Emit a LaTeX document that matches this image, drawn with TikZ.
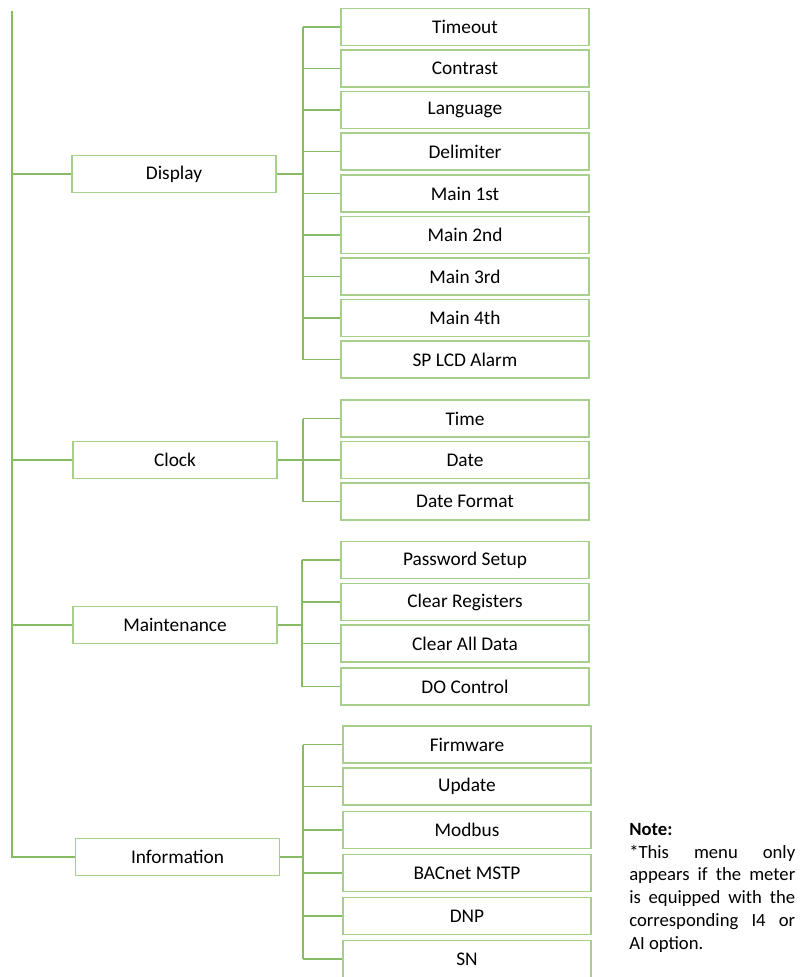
\documentclass[tikz,border=0pt]{standalone}
\usepackage{fontspec}
\setmainfont{Carlito}
\begin{document}
\begin{tikzpicture}[x=0.75pt,y=-0.75pt,
  linkline/.style={draw={rgb,255:red,135;green,188;blue,100}, line width=1pt},
  boxone/.style={draw={rgb,255:red,168;green,208;blue,141}, line width=1.1pt, fill=white,
    minimum width=153pt, minimum height=27.75pt, inner sep=0pt, font=\fontsize{14.5}{17}\selectfont},
  boxtwo/.style={draw={rgb,255:red,168;green,208;blue,141}, line width=1.1pt, fill=white,
    minimum width=186pt, minimum height=27.75pt, inner sep=0pt, font=\fontsize{14.5}{17}\selectfont}]
\useasboundingbox (0,0) rectangle (800,977);

% level 1
\node[boxone] (disp) at (174,174) {Display};
\node[boxone] (clock) at (175,460) {Clock};
\node[boxone] (maint) at (175,625) {Maintenance};
\node[boxone] (info) at (177.5,857) {Information};

% level 2: display
\node[boxtwo] (timeout) at (465,27) {Timeout};
\node[boxtwo] (contrast) at (465,68.5) {Contrast};
\node[boxtwo] (language) at (465,110) {Language};
\node[boxtwo] (delim) at (465,151.5) {Delimiter};
\node[boxtwo] (mfirst) at (465,193.5) {Main 1st};
\node[boxtwo] (msecond) at (465,235) {Main 2nd};
\node[boxtwo] (mthird) at (465,276.5) {Main 3rd};
\node[boxtwo] (mfourth) at (465,318) {Main 4th};
\node[boxtwo] (splcd) at (465,359.5) {SP LCD Alarm};
% clock
\node[boxtwo] (time) at (465,418.5) {Time};
\node[boxtwo] (date) at (465,460) {Date};
\node[boxtwo] (datefmt) at (465,501.5) {Date Format};
% maintenance
\node[boxtwo] (pwd) at (465,560) {Password Setup};
\node[boxtwo] (clrreg) at (465,602) {Clear Registers};
\node[boxtwo] (clrall) at (465,643.5) {Clear All Data};
\node[boxtwo] (docontrol) at (465,686.5) {DO Control};
% information
\node[boxtwo] (firmware) at (467,744.5) {Firmware};
\node[boxtwo] (update) at (467,786.5) {Update};
\node[boxtwo] (modbus) at (467,830) {Modbus};
\node[boxtwo] (bacnet) at (467,873) {BACnet MSTP};
\node[boxtwo] (dnp) at (467,916) {DNP};
\node[boxtwo] (sn) at (467,959) {SN};

% junctions
\coordinate (trunk) at (12,11);
\coordinate (dj) at (303,174);
\coordinate (cj) at (303,460);
\coordinate (mj) at (302,625);
\coordinate (ij) at (303,857);

% trunk
\draw[linkline] (trunk) |- (info.west);
\foreach \n in {disp,clock,maint}
  \draw[linkline] (trunk |- \n) -- (\n.west);

% display branch
\draw[linkline] (disp.east) -- (dj);
\draw[linkline] (dj |- timeout) -- (dj |- splcd);
\foreach \n in {timeout,contrast,language,delim,mfirst,msecond,mthird,mfourth,splcd}
  \draw[linkline] (dj |- \n) -- (\n.west);

% clock branch
\draw[linkline] (clock.east) -- (cj);
\draw[linkline] (cj |- time) -- (cj |- datefmt);
\foreach \n in {time,date,datefmt}
  \draw[linkline] (cj |- \n) -- (\n.west);

% maintenance branch
\draw[linkline] (maint.east) -- (mj);
\draw[linkline] (mj |- pwd) -- (mj |- docontrol);
\foreach \n in {pwd,clrreg,clrall,docontrol}
  \draw[linkline] (mj |- \n) -- (\n.west);

% information branch
\draw[linkline] (info.east) -- (ij);
\draw[linkline] (ij |- firmware) -- (ij |- sn);
\foreach \n in {firmware,update,modbus,bacnet,dnp,sn}
  \draw[linkline] (ij |- \n) -- (\n.west);

% note
\node[anchor=north west, inner sep=0pt, text width=124.5pt, align=justify,
  font=\fontsize{14}{17.1}\selectfont] (note) at (629,823)
  {\hyphenpenalty=10000 \textbf{Note:}\newline {*}This menu only\linebreak appears if the meter\linebreak is equipped with the\linebreak corresponding I4 or\linebreak AI option.};
\end{tikzpicture}
\end{document}
